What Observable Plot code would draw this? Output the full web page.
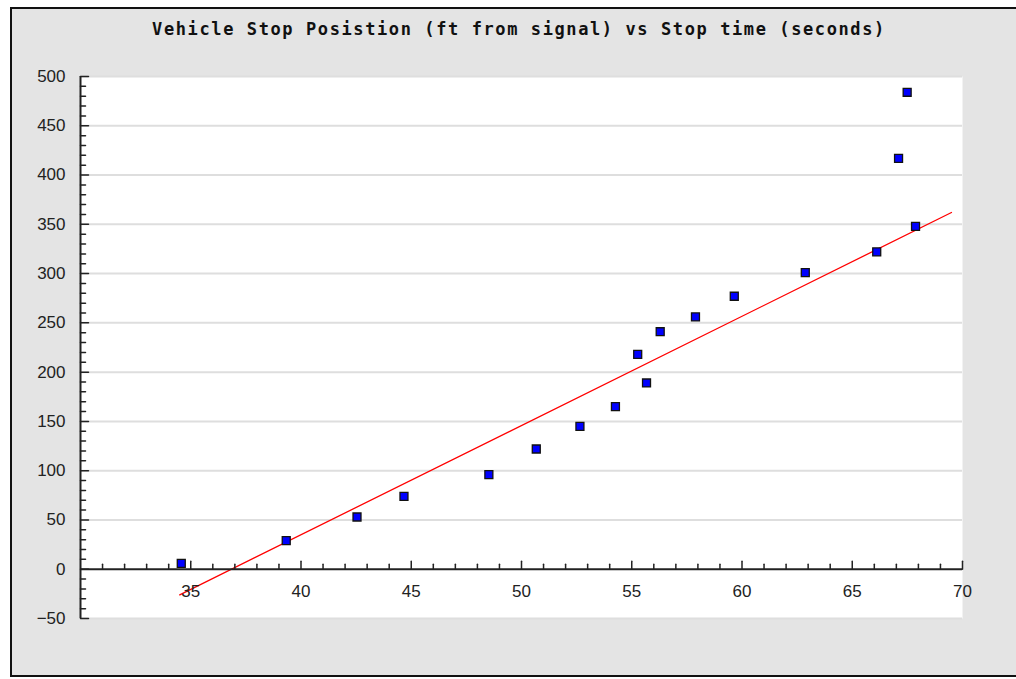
<!DOCTYPE html>
<html><head><meta charset="utf-8">
<script src="https://cdn.jsdelivr.net/npm/d3@7"></script>
<script src="https://cdn.jsdelivr.net/npm/@observablehq/plot@0.6"></script>
<style>
html,body{margin:0;padding:0;background:#fff;}
#wrap{position:relative;width:1016px;height:679px;overflow:hidden;}
#panel{position:absolute;left:10px;top:7px;width:1030px;height:666px;background:#e4e4e4;border:2px solid #111;border-right:none;}
#title{position:absolute;top:21px;left:519px;transform:translateX(-50%);white-space:nowrap;font:bold 17px/17px "DejaVu Sans Mono",monospace;letter-spacing:1.6px;color:#111;}
#chart{position:absolute;left:0;top:60px;}
</style></head>
<body>
<div id="wrap">
  <div id="panel"></div>
  <div id="title">Vehicle Stop Posistion (ft from signal) vs Stop time (seconds)</div>
  <div id="chart"></div>
</div>
<script>
const stopTime = [34.57, 39.33, 42.54, 44.67, 48.52, 50.67, 52.65, 54.26, 55.27, 55.67, 56.29, 57.89, 59.65, 62.87, 66.11, 67.10, 67.49, 67.87];
const stopPos  = [6, 29, 53, 74, 96, 122, 145, 165, 218, 189, 241, 256, 277, 301, 322, 417, 484, 348];
const fitX = [34.5, 69.5];
const fitY = [-26, 362];
const xMajor = [35, 40, 45, 50, 55, 60, 65, 70];
const xMinor = d3.range(31, 71).filter(v => v % 5 !== 0);
const yMajor = [-50, 0, 50, 100, 150, 200, 250, 300, 350, 400, 450, 500];
const yMinor = d3.range(-40, 500, 10).filter(v => v % 50 !== 0);
const gridY = yMajor.filter(v => v !== 0);

const points = stopTime.map((t, i) => ({t, p: stopPos[i]}));
const fit = fitX.map((x, i) => ({x, y: fitY[i]}));
const tickShape = {draw(ctx, l) { ctx.moveTo(0, 0); ctx.lineTo(0, -l); }};

const chart = Plot.plot({
  width: 1016, height: 600,
  marginTop: 16, marginBottom: 42, marginLeft: 80, marginRight: 54,
  style: {background: "transparent", fontFamily: "'Liberation Sans', Arial, sans-serif", fontSize: "17px", color: "#222"},
  x: {domain: [30, 70], axis: null},
  y: {domain: [-50, 500]},
  marks: [
    Plot.frame({fill: "white", stroke: null}),
    Plot.ruleY(gridY, {stroke: "#dedede", strokeWidth: 2}),
    Plot.line(fit, {x: "x", y: "y", stroke: "#ff0000", strokeWidth: 1.3}),
    Plot.ruleY([0], {stroke: "#222", strokeWidth: 2}),
    Plot.ruleX([30], {stroke: "#222", strokeWidth: 2}),
    Plot.vector(xMajor, {x: d => d, y: 0, length: 8, rotate: 0, anchor: "start", shape: tickShape, stroke: "#222", strokeWidth: 1.5}),
    Plot.vector(xMinor, {x: d => d, y: 0, length: 5, rotate: 0, anchor: "start", shape: tickShape, stroke: "#222", strokeWidth: 1.5}),
    Plot.vector(yMajor, {y: d => d, frameAnchor: "left", length: 8, rotate: 90, anchor: "start", shape: tickShape, stroke: "#222", strokeWidth: 1.5}),
    Plot.vector(yMinor, {y: d => d, frameAnchor: "left", length: 5, rotate: 90, anchor: "start", shape: tickShape, stroke: "#222", strokeWidth: 1.5}),
    Plot.axisY(yMajor, {tickSize: 0, tickPadding: 15, fill: "#222", fontSize: 17}),
    Plot.text(xMajor, {x: d => d, y: 0, dy: 22, text: d => String(d), fill: "#222", fontSize: 17}),
    Plot.dot(points, {x: "t", y: "p", symbol: "square", r: 4.5, fill: "#0000ff", stroke: "#111", strokeWidth: 1.3})
  ]
});
document.getElementById("chart").appendChild(chart);
</script>
</body></html>
